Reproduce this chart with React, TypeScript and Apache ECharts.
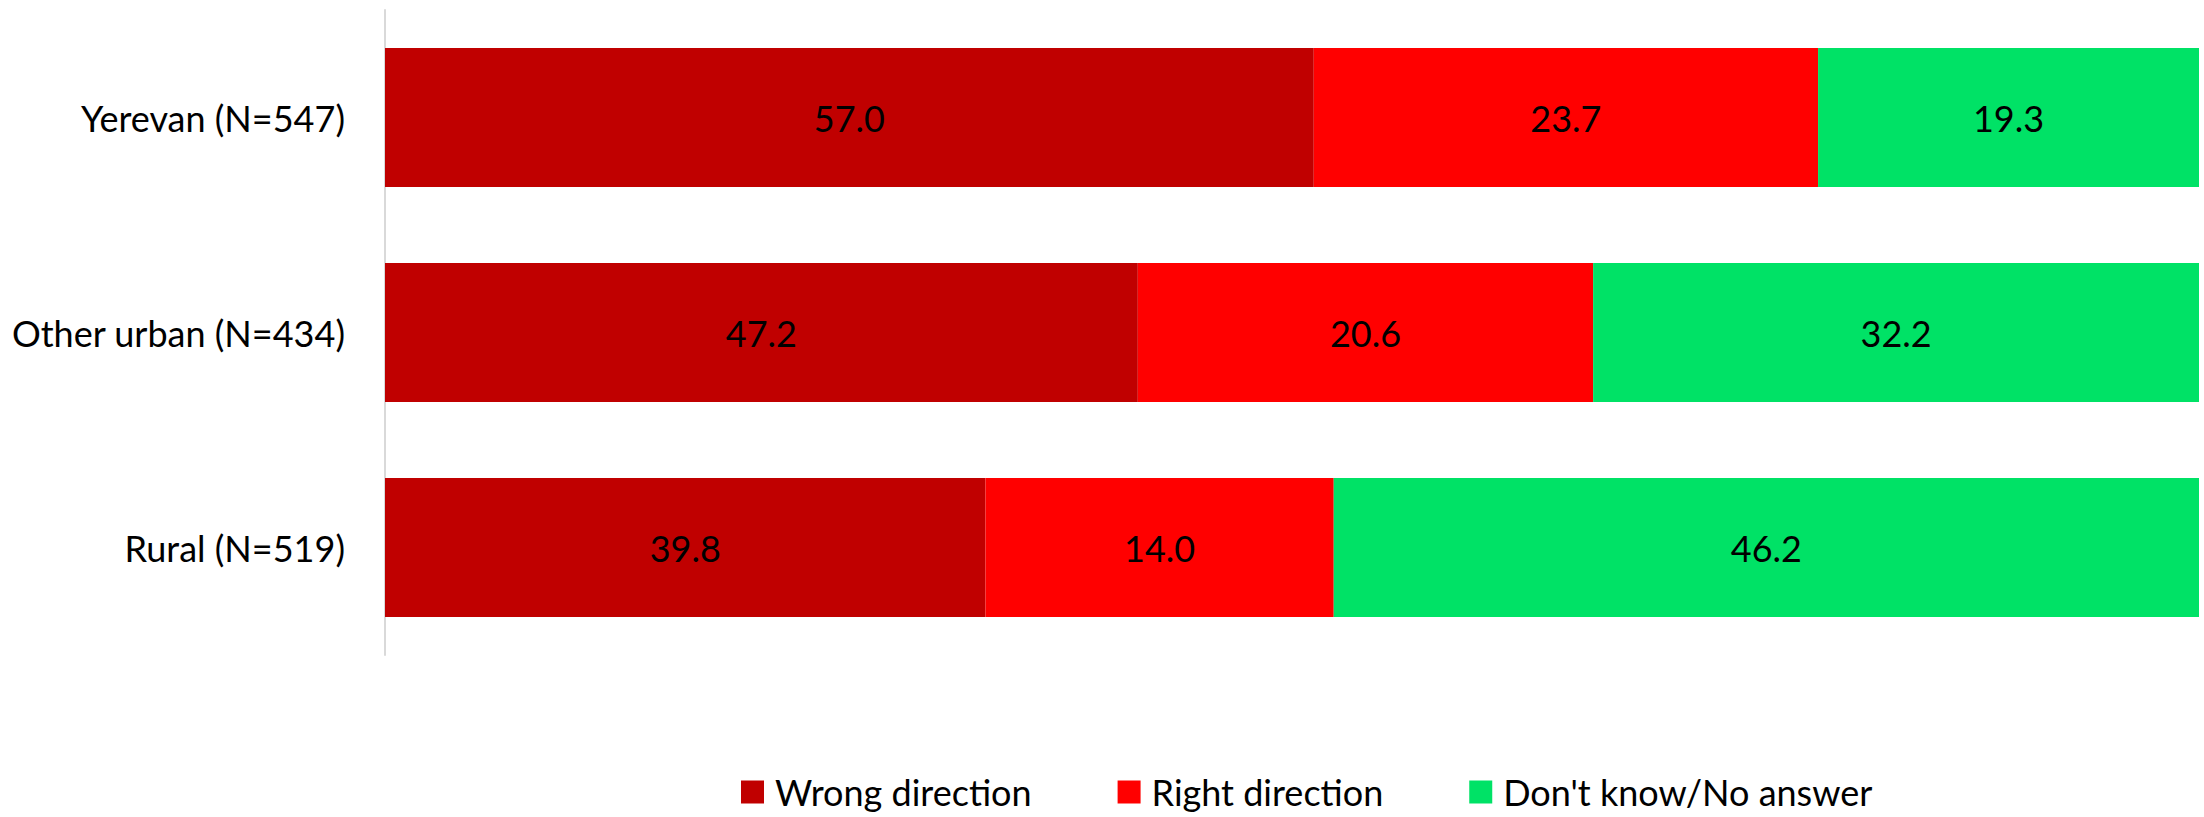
import React, { useEffect, useRef } from "react";
import * as echarts from "echarts";

// Categories (top to bottom)
const categories = ["Yerevan (N=547)", "Other urban (N=434)", "Rural (N=519)"];
const seriesNames = ["Wrong direction", "Right direction", "Don't know/No answer"];

// Printed values shown on the segments
const wrongLabels = [57.0, 47.2, 39.8];
const rightLabels = [23.7, 20.6, 14.0];
const dkLabels = [19.3, 32.2, 46.2];

// Segment lengths as drawn in the picture (share of the full bar, %)
const wrongBar = [51.2, 41.5, 33.1];
const rightBar = [27.8, 25.1, 19.2];
const dkBar = [21.0, 33.4, 47.7];

const colors = ["#C00000", "#FF0000", "#00E266"];
const FONT = "Lato, 'Open Sans', sans-serif";

export default function App() {
  const ref = useRef<HTMLDivElement>(null);
  useEffect(() => {
    if (!ref.current) return;
    const chart = echarts.init(ref.current, null, { renderer: "svg" });
    const mk = (name: string, bar: number[], labels: number[], color: string) => ({
      name,
      type: "bar",
      stack: "total",
      barWidth: 139,
      data: bar,
      itemStyle: { color },
      label: {
        show: true,
        position: "inside",
        color: "#000",
        fontFamily: FONT,
        fontSize: 36,
        formatter: (p: any) => labels[p.dataIndex].toFixed(1),
      },
      emphasis: { disabled: true },
    });
    chart.setOption({
      animation: false,
      textStyle: { fontFamily: FONT },
      grid: { left: 385, right: 5, top: 10, bottom: 162, containLabel: false },
      xAxis: {
        type: "value",
        min: 0,
        max: 100,
        show: false,
      },
      yAxis: {
        type: "category",
        data: categories,
        inverse: true,
        axisLine: { show: true, lineStyle: { color: "#D9D9D9", width: 2 } },
        axisTick: { show: false },
        axisLabel: { color: "#000", fontSize: 36, fontFamily: FONT, margin: 40 },
      },
      legend: {
        left: 736,
        top: 767,
        itemWidth: 23,
        itemHeight: 23,
        itemGap: 86,
        icon: "rect",
        data: seriesNames,
        textStyle: { color: "#000", fontSize: 36, fontFamily: FONT, lineHeight: 40, padding: [0, 0, 0, 6] },
      },
      series: [
        mk(seriesNames[0], wrongBar, wrongLabels, colors[0]),
        mk(seriesNames[1], rightBar, rightLabels, colors[1]),
        mk(seriesNames[2], dkBar, dkLabels, colors[2]),
      ],
    });
    return () => chart.dispose();
  }, []);
  return (
    <div
      ref={ref}
      style={{ position: "fixed", left: 0, top: 0, width: 2204, height: 817, background: "#fff" }}
    />
  );
}
